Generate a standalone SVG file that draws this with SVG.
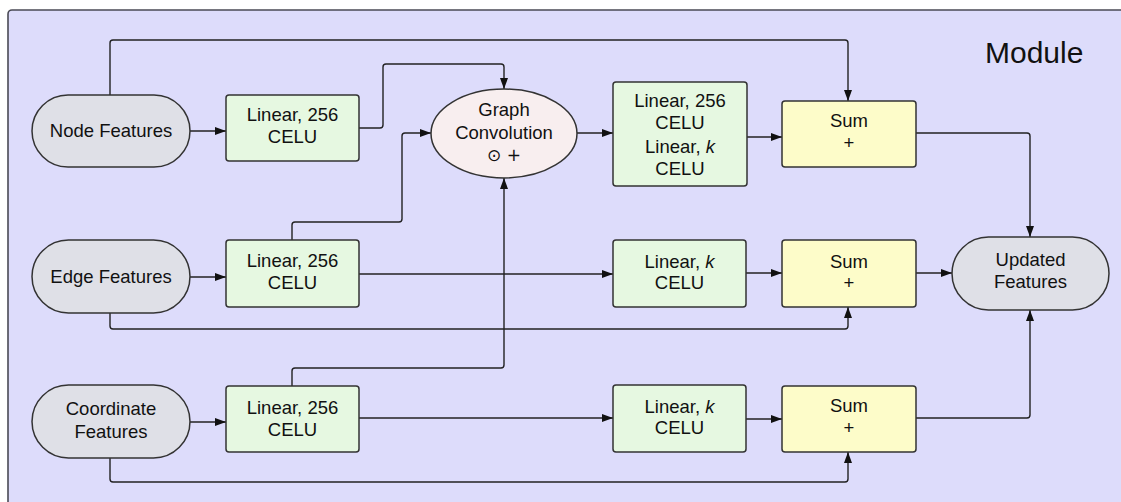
<svg xmlns="http://www.w3.org/2000/svg" width="1121" height="502" viewBox="0 0 1121 502">
  <defs>
    <marker id="arrow" markerWidth="11" markerHeight="8" refX="11" refY="4" orient="auto" markerUnits="userSpaceOnUse">
      <path d="M0,0 L11,4 L0,8 Z" fill="#111"/>
    </marker>
    <style>
      .frame { fill: #dddcfb; stroke: #4a4a55; stroke-width: 1.6; }
      .term { fill: #dfe0e7; stroke: #333; stroke-width: 1.5; }
      .lin { fill: #e6f8e1; stroke: #333; stroke-width: 1.5; }
      .sum { fill: #fdfcc9; stroke: #333; stroke-width: 1.5; }
      .conv { fill: #f8eeef; stroke: #333; stroke-width: 1.5; }
      .edge { fill: none; stroke: #222; stroke-width: 1.4; }
      text { font-family: "Liberation Sans", Arial, "DejaVu Sans", sans-serif; font-size: 18.5px; fill: #111; text-anchor: middle; }
      .title { font-size: 30px; text-anchor: start; }
    </style>
  </defs>

  <!-- module frame -->
  <rect class="frame" x="8" y="10" width="1130" height="510" rx="4"/>
  <text class="title" x="985" y="63">Module</text>

  <!-- connectors -->
  <g id="connectors">
    <path class="edge" marker-end="url(#arrow)" d="M190,131 H226"/>
    <path class="edge" marker-end="url(#arrow)" d="M110,95 V43 Q110,40 113,40 H845 Q848,40 848,43 V101"/>
    <path class="edge" marker-end="url(#arrow)" d="M359,128 H380 Q383,128 383,125 V67 Q383,64 386,64 H501 Q504,64 504,67 V89"/>
    <path class="edge" marker-end="url(#arrow)" d="M292,240 V225 Q292,222 295,222 H399 Q402,222 402,219 V136 Q402,133 405,133 H431"/>
    <path class="edge" marker-end="url(#arrow)" d="M292,386 V371 Q292,368 295,368 H501 Q504,368 504,365 V178"/>
    <path class="edge" marker-end="url(#arrow)" d="M577,133 H613"/>
    <path class="edge" marker-end="url(#arrow)" d="M747,137 H782"/>
    <path class="edge" marker-end="url(#arrow)" d="M916,133 H1027 Q1030,133 1030,136 V237"/>
    <path class="edge" marker-end="url(#arrow)" d="M190,277 H226"/>
    <path class="edge" marker-end="url(#arrow)" d="M359,274 H613"/>
    <path class="edge" marker-end="url(#arrow)" d="M746,273 H782"/>
    <path class="edge" marker-end="url(#arrow)" d="M916,273 H952"/>
    <path class="edge" marker-end="url(#arrow)" d="M110,313 V326 Q110,329 113,329 H845 Q848,329 848,326 V307"/>
    <path class="edge" marker-end="url(#arrow)" d="M190,422 H226"/>
    <path class="edge" marker-end="url(#arrow)" d="M359,418 H613"/>
    <path class="edge" marker-end="url(#arrow)" d="M746,419 H782"/>
    <path class="edge" marker-end="url(#arrow)" d="M916,418 H1027 Q1030,418 1030,415 V310"/>
    <path class="edge" marker-end="url(#arrow)" d="M110,458 V479 Q110,482 113,482 H845 Q848,482 848,479 V452"/>
  </g>

  <!-- inputs -->
  <g id="node-features">
    <rect class="term" x="32" y="95" width="158" height="72" rx="36"/>
    <text x="111" y="137">Node Features</text>
  </g>
  <g id="edge-features">
    <rect class="term" x="32" y="240" width="158" height="73" rx="36.5"/>
    <text x="111" y="283">Edge Features</text>
  </g>
  <g id="coordinate-features">
    <rect class="term" x="32" y="385" width="158" height="73" rx="36.5"/>
    <text x="111" y="414.5">Coordinate</text>
    <text x="111" y="437.5">Features</text>
  </g>

  <!-- first linear layers -->
  <g id="node-linear">
    <rect class="lin" x="226" y="95" width="133" height="66" rx="3"/>
    <text x="292.5" y="120.5">Linear, 256</text>
    <text x="292.5" y="143">CELU</text>
  </g>
  <g id="edge-linear">
    <rect class="lin" x="226" y="240" width="133" height="67" rx="3"/>
    <text x="292.5" y="266.5">Linear, 256</text>
    <text x="292.5" y="289">CELU</text>
  </g>
  <g id="coord-linear">
    <rect class="lin" x="226" y="386" width="133" height="66" rx="3"/>
    <text x="292.5" y="413.5">Linear, 256</text>
    <text x="292.5" y="436">CELU</text>
  </g>

  <!-- graph convolution -->
  <g id="graph-convolution">
    <ellipse class="conv" cx="504" cy="133.5" rx="73" ry="44.5"/>
    <text x="504" y="115.5">Graph</text>
    <text x="504" y="138.5">Convolution</text>
    <text x="504" y="161" style="font-family: 'DejaVu Sans', 'Liberation Sans', sans-serif; font-size: 17px;">⊙ +</text>
  </g>

  <!-- second linear layers -->
  <g id="node-linear-k">
    <rect class="lin" x="613" y="82" width="134" height="104" rx="3"/>
    <text x="680" y="106.5">Linear, 256</text>
    <text x="680" y="129">CELU</text>
    <text x="680" y="152.5">Linear, <tspan font-style="italic">k</tspan></text>
    <text x="680" y="175">CELU</text>
  </g>
  <g id="edge-linear-k">
    <rect class="lin" x="613" y="240" width="133" height="67" rx="3"/>
    <text x="679.5" y="267.5">Linear, <tspan font-style="italic">k</tspan></text>
    <text x="679.5" y="289">CELU</text>
  </g>
  <g id="coord-linear-k">
    <rect class="lin" x="613" y="385" width="133" height="67" rx="3"/>
    <text x="679.5" y="412.5">Linear, <tspan font-style="italic">k</tspan></text>
    <text x="679.5" y="434">CELU</text>
  </g>

  <!-- residual sums -->
  <g id="node-sum">
    <rect class="sum" x="782" y="101" width="134" height="66" rx="3"/>
    <text x="849" y="127">Sum</text>
    <text x="849" y="149">+</text>
  </g>
  <g id="edge-sum">
    <rect class="sum" x="782" y="240" width="134" height="67" rx="3"/>
    <text x="849" y="267.5">Sum</text>
    <text x="849" y="289">+</text>
  </g>
  <g id="coord-sum">
    <rect class="sum" x="782" y="386" width="134" height="66" rx="3"/>
    <text x="849" y="411.5">Sum</text>
    <text x="849" y="434">+</text>
  </g>

  <!-- output -->
  <g id="updated-features">
    <rect class="term" x="952" y="237" width="157" height="73" rx="36.5"/>
    <text x="1030.5" y="265.5">Updated</text>
    <text x="1030.5" y="288">Features</text>
  </g>
</svg>
